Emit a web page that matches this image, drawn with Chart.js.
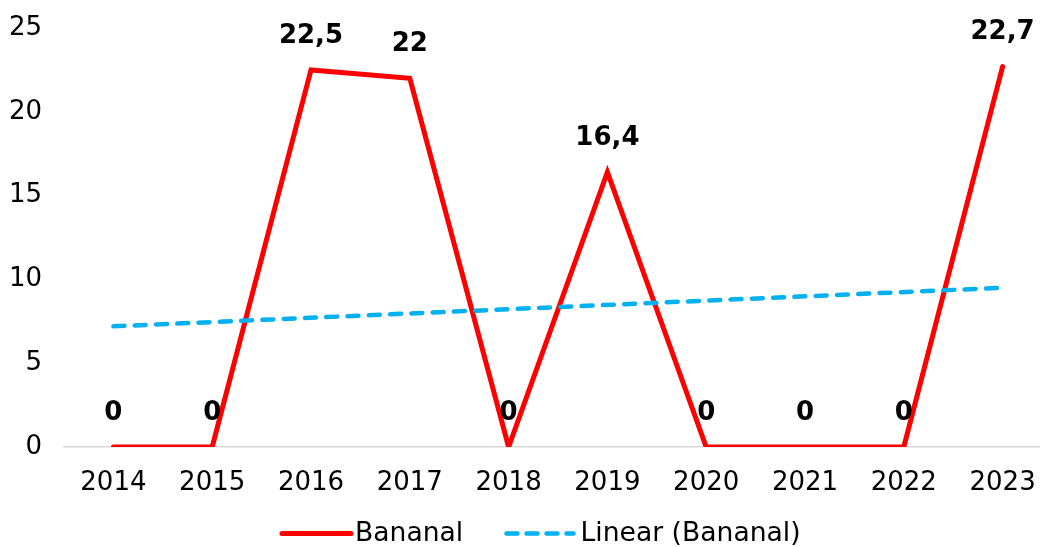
<!DOCTYPE html>
<html>
<head>
<meta charset="utf-8">
<script src="https://cdn.jsdelivr.net/npm/chart.js@4.4.1/dist/chart.umd.min.js"></script>
<style>
  html, body { margin: 0; padding: 0; background: #ffffff; overflow: hidden; }
  #wrap { width: 1040px; height: 547px; overflow: hidden; }
  canvas { display: block; }
</style>
</head>
<body>
<div id="wrap"><canvas id="c" width="1083" height="547"></canvas></div>
<script>
// ---- data ----
const categories = ['2014', '2015', '2016', '2017', '2018', '2019', '2020', '2021', '2022', '2023'];
const bananal = [0, 0, 22.5, 22, 0, 16.4, 0, 0, 0, 22.7];
// trend line: start and end points (straight line)
const linearBananal = [7.2, null, null, null, null, null, null, null, null, 9.5];
const yTicks = [0, 5, 10, 15, 20, 25];
const seriesNames = ['Bananal', 'Linear (Bananal)'];

const FONT = "'DejaVu Sans', Verdana, sans-serif";
const RED = '#ff0000';
const BLUE = '#00b0f0';

const dataLabels = {
  id: 'dataLabels',
  afterDatasetsDraw(chart) {
    const ctx = chart.ctx;
    const meta = chart.getDatasetMeta(0);
    ctx.save();
    ctx.font = 'bold 26px ' + FONT;
    ctx.fillStyle = '#000000';
    ctx.textAlign = 'center';
    ctx.textBaseline = 'middle';
    meta.data.forEach((pt, i) => {
      const v = bananal[i];
      ctx.fillText(String(v).replace('.', ','), pt.x, pt.y - 34);
    });
    ctx.restore();
  }
};

const customLegend = {
  id: 'customLegend',
  afterDraw(chart) {
    const ctx = chart.ctx;
    const cx = chart.width / 2;
    const y = 533.5;
    ctx.save();
    ctx.font = '26.6px ' + FONT;
    ctx.fillStyle = '#000000';
    ctx.textBaseline = 'middle';
    ctx.textAlign = 'left';
    // red item
    ctx.strokeStyle = RED;
    ctx.lineWidth = 5;
    ctx.lineCap = 'round';
    ctx.setLineDash([]);
    ctx.beginPath();
    ctx.moveTo(cx - 259.5, y);
    ctx.lineTo(cx - 190.5, y);
    ctx.stroke();
    ctx.fillText(seriesNames[0], cx - 186.5, y + 1);
    // blue item
    ctx.strokeStyle = BLUE;
    ctx.lineWidth = 4.5;
    ctx.setLineDash([11, 9]);
    ctx.beginPath();
    ctx.moveTo(cx - 35, y);
    ctx.lineTo(cx + 32, y);
    ctx.stroke();
    ctx.setLineDash([]);
    ctx.fillText(seriesNames[1], cx + 39, y + 1);
    ctx.restore();
  }
};

new Chart(document.getElementById('c'), {
  type: 'line',
  data: {
    labels: categories,
    datasets: [
      {
        label: seriesNames[0],
        data: bananal,
        borderColor: RED,
        backgroundColor: RED,
        borderWidth: 5,
        pointRadius: 0,
        tension: 0,
        borderCapStyle: 'round',
        borderJoinStyle: 'miter',
        order: 1
      },
      {
        label: seriesNames[1],
        data: linearBananal,
        borderColor: BLUE,
        backgroundColor: BLUE,
        borderWidth: 4.5,
        borderDash: [11, 10.3],
        borderCapStyle: 'round',
        pointRadius: 0,
        spanGaps: true,
        tension: 0,
        order: 0
      }
    ]
  },
  options: {
    responsive: false,
    devicePixelRatio: 1,
    animation: false,
    events: [],
    layout: { padding: { top: 28, bottom: 40, left: 0, right: 31 } },
    plugins: {
      legend: { display: false },
      tooltip: { enabled: false },
      title: { display: false }
    },
    scales: {
      x: {
        offset: true,
        grid: { display: false, drawTicks: false },
        border: { display: true, color: '#d9d9d9', width: 1.5 },
        ticks: {
          color: '#000000',
          font: { family: FONT, size: 26 },
          padding: 21,
          maxRotation: 0,
          autoSkip: false
        },
        afterFit(scale) {
          scale.height = 60;
          scale.paddingLeft = 0; scale.paddingRight = 0;
          scale.paddingTop = 0; scale.paddingBottom = 0;
        }
      },
      y: {
        min: 0,
        max: 25,
        grid: { display: false, drawTicks: false },
        border: { display: false },
        afterBuildTicks(scale) { scale.ticks = yTicks.map(v => ({ value: v })); },
        ticks: {
          color: '#000000',
          font: { family: FONT, size: 26 },
          padding: 22
        },
        afterFit(scale) {
          scale.width = 64;
          scale.paddingLeft = 0; scale.paddingRight = 0;
          scale.paddingTop = 0; scale.paddingBottom = 0;
        }
      }
    }
  },
  plugins: [dataLabels, customLegend]
});
</script>
</body>
</html>
